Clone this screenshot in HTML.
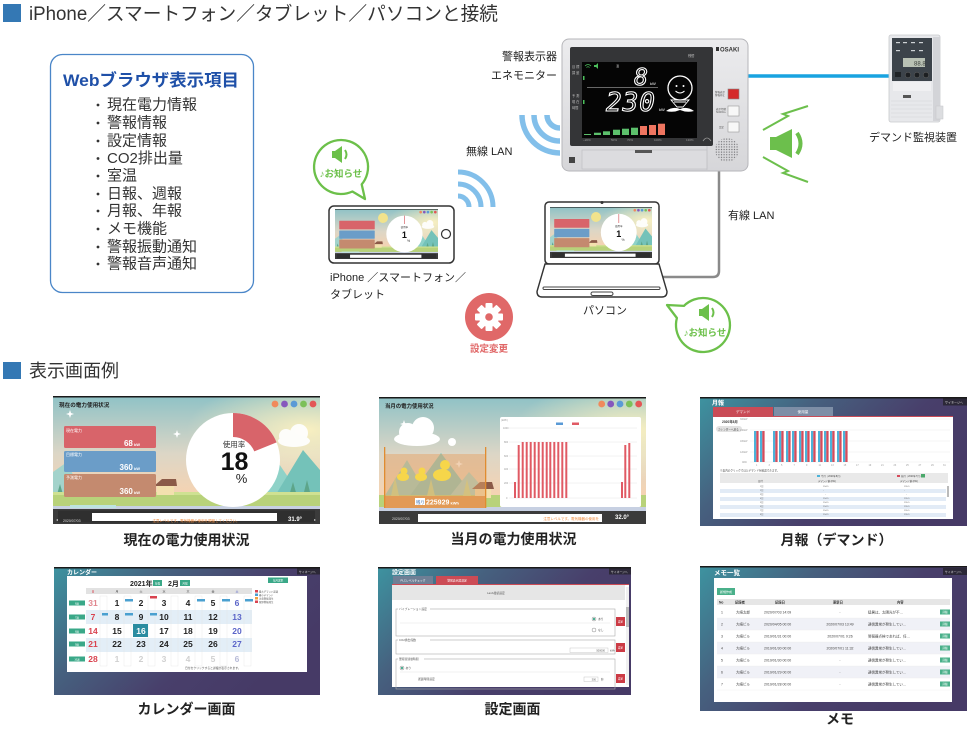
<!DOCTYPE html>
<html><head><meta charset="utf-8"><title>diagram</title>
<style>
html,body{margin:0;padding:0;background:#fff;width:973px;height:729px;overflow:hidden;}
svg{display:block;}
text{font-family:"Liberation Sans","Noto Sans CJK JP",sans-serif;}
.mono{font-family:"DejaVu Sans Mono","Liberation Mono",monospace;}
</style></head><body>
<svg width="973" height="729" viewBox="0 0 973 729" xmlns="http://www.w3.org/2000/svg">
<defs>
 <linearGradient id="sky" x1="0" y1="0" x2="0" y2="1">
  <stop offset="0" stop-color="#8fc2c6"/>
  <stop offset="0.45" stop-color="#dcd6c6"/>
  <stop offset="0.75" stop-color="#f4d3b3"/>
  <stop offset="1" stop-color="#f4d3b3"/>
 </linearGradient>
 <radialGradient id="glow" cx="0.95" cy="0.3" r="0.45">
  <stop offset="0" stop-color="#fff3c0" stop-opacity="0.9"/>
  <stop offset="1" stop-color="#fff3c0" stop-opacity="0"/>
 </radialGradient>
 <linearGradient id="ui" x1="0" y1="0" x2="1" y2="0.5">
  <stop offset="0" stop-color="#3d93a0"/>
  <stop offset="0.35" stop-color="#46617f"/>
  <stop offset="0.7" stop-color="#483f6b"/>
  <stop offset="1" stop-color="#463a66"/>
 </linearGradient>
 <linearGradient id="body" x1="0" y1="0" x2="0" y2="1">
  <stop offset="0" stop-color="#ececee"/>
  <stop offset="1" stop-color="#d6d6d9"/>
 </linearGradient>
 <pattern id="dots" width="2.6" height="2.6" patternUnits="userSpaceOnUse">
  <circle cx="1.3" cy="1.3" r="0.65" fill="#6c6c70"/>
 </pattern>
 <symbol id="scene1" viewBox="0 0 267 128" preserveAspectRatio="none">
  <rect width="267" height="128" fill="url(#sky)"/>
  <rect width="267" height="113" fill="url(#glow)"/>
  <g fill="#fff" opacity="0.92">
   <ellipse cx="241" cy="45" rx="16" ry="6"/>
   <circle cx="233" cy="40" r="7"/>
   <circle cx="246" cy="37" r="9"/>
  </g>
  <polygon points="196,100 222,62 248,100" fill="#8fd2c8"/>
  <polygon points="222,100 250,54 267,74 267,100" fill="#74c2b9"/>
  <polygon points="0,100 0,76 14,66 30,100" fill="#a3d3cb"/>
  <g fill="#5da58a">
   <polygon points="236,100 240,86 244,100"/>
   <polygon points="250,100 254,84 258,100"/>
   <polygon points="3,102 7,88 11,102"/>
  </g>
  <rect x="0" y="96" width="267" height="15" fill="#b8d27a"/>
  <rect x="0" y="96" width="267" height="3" fill="#cfe192"/>
  <rect x="0" y="110" width="267" height="3.5" fill="#c7d0e2"/>
  <rect x="17" y="109" width="46" height="3" fill="#bde3e0"/>
  <g transform="translate(104,84)">
   <rect x="0" y="5" width="17" height="10" fill="#f3e0ae"/>
   <polygon points="-3,6 5,-1 19,-1 20,6" fill="#8b5a48"/>
  </g>
  <rect x="0" y="113" width="267" height="15" fill="#3b3b3b"/>
  <rect x="5" y="114.5" width="257" height="12" fill="#2f2f2f"/>
  <rect x="39" y="117" width="185" height="8" fill="#fff"/>
  <rect width="267" height="1.5" fill="#1a1a1a"/>
  <rect x="11" y="30" width="92" height="22" rx="1.5" fill="#d8646a"/>
  <rect x="11" y="55" width="92" height="21" rx="1.5" fill="#6b9dc8"/>
  <rect x="11" y="78" width="92" height="23" rx="1.5" fill="#c48a6f"/>
  <circle cx="180" cy="64" r="47" fill="#fff"/>
  <circle cx="222" cy="8" r="3.4" fill="#f0895c"/>
  <circle cx="231.5" cy="8" r="3.4" fill="#8658bd"/>
  <circle cx="241" cy="8" r="3.4" fill="#5b9ad6"/>
  <circle cx="250.5" cy="8" r="3.4" fill="#7cc05a"/>
  <circle cx="260" cy="8" r="3.4" fill="#e35656"/>
 </symbol>
</defs>

<!-- ===== Header 1 ===== -->
<rect x="3" y="4" width="18" height="18" fill="#3478b4"/>
<text x="29" y="20" font-size="19" fill="#333" textLength="469" lengthAdjust="spacingAndGlyphs">iPhone／スマートフォン／タブレット／パソコンと接続</text>

<!-- ===== Web browser box ===== -->
<rect x="50.5" y="54.5" width="203" height="238" rx="12" fill="#fff" stroke="#4a86c8" stroke-width="1.3"/>
<text x="63" y="86" font-size="17" font-weight="bold" fill="#1f50a8" textLength="176" lengthAdjust="spacingAndGlyphs">Webブラウザ表示項目</text>
<g fill="#333">
 <circle cx="98" cy="105" r="1.4"/><circle cx="98" cy="123" r="1.4"/><circle cx="98" cy="141" r="1.4"/>
 <circle cx="98" cy="158.5" r="1.4"/><circle cx="98" cy="176" r="1.4"/><circle cx="98" cy="194" r="1.4"/>
 <circle cx="98" cy="211" r="1.4"/><circle cx="98" cy="229" r="1.4"/><circle cx="98" cy="247" r="1.4"/>
 <circle cx="98" cy="264" r="1.4"/>
</g>
<g font-size="15" fill="#333">
 <text x="107" y="109.5">現在電力情報</text>
 <text x="107" y="127.5">警報情報</text>
 <text x="107" y="145.5">設定情報</text>
 <text x="107" y="163">CO2排出量</text>
 <text x="107" y="180.5">室温</text>
 <text x="107" y="198.5">日報、週報</text>
 <text x="107" y="215.5">月報、年報</text>
 <text x="107" y="233.5">メモ機能</text>
 <text x="107" y="251.5">警報振動通知</text>
 <text x="107" y="268.5">警報音声通知</text>
</g>

<!-- ===== connectors ===== -->
<line x1="746" y1="76" x2="890" y2="76" stroke="#19a3e0" stroke-width="3.5"/>
<path d="M719 168 L719 271 Q719 277 713 277 L662 277" fill="none" stroke="#8a8a8a" stroke-width="2.5"/>

<!-- ===== Device (エネモニター) ===== -->
<rect x="562" y="39" width="186" height="132" rx="7" fill="url(#body)" stroke="#b6b6ba" stroke-width="1"/>
<rect x="570" y="47" width="143" height="99" rx="2" fill="#343537"/>
<rect x="582" y="62" width="115" height="76" fill="#050505"/>
<rect x="582" y="150" width="125" height="19" fill="#dcdcdf" stroke="#c2c2c6" stroke-width="0.8"/>
<line x1="707" y1="146" x2="707" y2="170" stroke="#c2c2c6" stroke-width="0.8"/>
<rect x="635" y="150" width="17" height="3" fill="#555"/>
<rect x="569" y="157" width="6" height="6" fill="#444"/>
<circle cx="727" cy="150" r="12" fill="url(#dots)"/>
<rect x="716" y="47" width="3" height="4" fill="#333"/>
<text x="720" y="51.5" font-size="6" font-weight="bold" fill="#333">OSAKI</text>
<rect x="728" y="89" width="11" height="10" fill="#d42a2a" stroke="#888" stroke-width="0.6"/>
<rect x="728" y="106" width="11" height="10" fill="#f7f7f7" stroke="#999" stroke-width="0.6"/>
<rect x="728" y="122" width="11" height="10" fill="#f7f7f7" stroke="#999" stroke-width="0.6"/>
<g font-size="2.5" fill="#555">
 <text x="715" y="93">警報表示</text><text x="715" y="96">警報停止</text>
 <text x="716" y="110">表示切替</text><text x="716" y="113">SCROLL</text>
 <text x="719" y="128">設定</text>
</g>
<!-- display content -->
<g font-size="3.2" fill="#bbb">
 <text x="572" y="68">目 標</text><text x="572" y="74">調 整</text>
 <text x="572" y="97">予 測</text><text x="572" y="103">現 在</text><text x="572" y="109">時間</text>
 <text x="688" y="57">残響</text>
</g>
<rect x="583" y="76" width="1.5" height="4" fill="#4cbf5c"/>
<rect x="583" y="100" width="1.5" height="4" fill="#4cbf5c"/>
<path d="M585 66 Q588 63 591 66 M586.5 67.5 Q588 66 589.5 67.5" stroke="#4cbf5c" stroke-width="0.8" fill="none"/>
<polygon points="594,65 596,65 598,63 598,69 596,67 594,67" fill="#4cbf5c"/>
<text x="616" y="67" font-size="3" fill="#ccc">温</text>
<text x="648" y="85" font-size="23" class="mono" font-style="italic" fill="#000" stroke="#fff" stroke-width="1.1" text-anchor="end">8</text>
<text x="650" y="85" font-size="4" fill="#fff">kW</text>
<line x1="587" y1="87.5" x2="658" y2="87.5" stroke="#888" stroke-width="0.8"/>
<text x="606" y="111" font-size="26" class="mono" font-style="italic" fill="#000" stroke="#fff" stroke-width="1.1" letter-spacing="1">230</text>
<text x="659" y="111" font-size="4" fill="#fff">kW</text>
<circle cx="680" cy="88" r="12" fill="none" stroke="#fff" stroke-width="1.3"/>
<circle cx="676.5" cy="86" r="1" fill="#fff"/><circle cx="683.5" cy="86" r="1" fill="#fff"/>
<path d="M675.5 91 Q680 95 684.5 91" stroke="#fff" stroke-width="1" fill="none"/>
<path d="M671 100 L689 100 L683 107 L677 107 Z M674 102 L686 102" stroke="#fff" stroke-width="0.9" fill="none"/>
<path d="M666 111 Q673 106 680 109 Q687 106 694 111 Q687 113 680 110 Q673 113 666 111 Z" fill="#fff"/>
<g>
 <rect x="584" y="134" width="7" height="1" fill="#5cc06c"/>
 <rect x="594" y="132.7" width="7" height="2.3" fill="#5cc06c"/>
 <rect x="603" y="131.3" width="7" height="3.7" fill="#5cc06c"/>
 <rect x="613" y="129.7" width="7" height="5.3" fill="#5cc06c"/>
 <rect x="622" y="128.7" width="7" height="6.3" fill="#5cc06c"/>
 <rect x="631" y="127.7" width="7" height="7.3" fill="#5cc06c"/>
 <rect x="640" y="126" width="7" height="9" fill="#ef7560"/>
 <rect x="649" y="125" width="7" height="10" fill="#ef7560"/>
 <rect x="658" y="123.7" width="7" height="11.3" fill="#ef7560"/>
</g>
<g font-size="3" fill="#999">
 <text x="583" y="141">~20%</text><text x="611" y="141">50%</text><text x="627" y="141">70%</text>
 <text x="654" y="141">100%</text><text x="686" y="141">130%</text>
</g>
<path d="M703 141 Q707 135 711 141" stroke="#999" stroke-width="0.8" fill="none"/>

<text x="557" y="60" font-size="11" fill="#222" text-anchor="end">警報表示器</text>
<text x="557" y="79" font-size="11" fill="#222" text-anchor="end">エネモニター</text>

<!-- ===== Demand monitor ===== -->
<rect x="889" y="35" width="51" height="87" rx="2" fill="#e7e8eb" stroke="#c9cacd" stroke-width="0.8"/>
<rect x="933" y="37" width="7" height="84" fill="#d3d4d8"/>
<rect x="936" y="106" width="7" height="13" fill="#dcdde0" stroke="#c5c6c9" stroke-width="0.5"/>
<rect x="892" y="38" width="40" height="43" fill="#3c434a"/>
<g fill="#cfd3d6">
 <rect x="896" y="42" width="4" height="1.2"/><rect x="903" y="42" width="4" height="1.2"/>
 <rect x="911" y="42" width="4" height="1.2"/><rect x="919" y="42" width="4" height="1.2"/>
 <rect x="896" y="50" width="4" height="1.2"/><rect x="911" y="50" width="4" height="1.2"/><rect x="919" y="50" width="4" height="1.2"/>
</g>
<rect x="903" y="58" width="22" height="9" fill="#b9c1b4"/>
<text x="914" y="65.5" font-size="6" fill="#3a3f3a">88.8</text>
<rect x="895" y="72" width="6" height="5" fill="#1f2326"/>
<circle cx="908" cy="75" r="2.8" fill="#1c1f22" stroke="#666" stroke-width="0.5"/>
<circle cx="917" cy="75" r="2.8" fill="#1c1f22" stroke="#666" stroke-width="0.5"/>
<circle cx="926" cy="75" r="2.8" fill="#1c1f22" stroke="#666" stroke-width="0.5"/>
<rect x="893" y="82" width="38" height="9" fill="#f0f0f2"/>
<rect x="903" y="95" width="8" height="3" fill="#555"/>
<g stroke="#d2d3d7" stroke-width="0.6">
 <line x1="891" y1="101" x2="932" y2="101"/><line x1="891" y1="105" x2="932" y2="105"/>
 <line x1="891" y1="109" x2="932" y2="109"/><line x1="891" y1="113" x2="932" y2="113"/>
 <line x1="891" y1="117" x2="932" y2="117"/>
</g>
<text x="869" y="141" font-size="11" fill="#222">デマンド監視装置</text>

<!-- ===== Green speaker with lightning ===== -->
<g fill="#6cbf4c">
 <rect x="770" y="137" width="8" height="13"/>
 <polygon points="776,137 792,129 792,158 776,150"/>
</g>
<path d="M797 133 Q804 143.5 797 154" stroke="#6cbf4c" stroke-width="4" fill="none"/>
<polyline points="763,130 788,116 783,114 808,106" fill="none" stroke="#6cbf4c" stroke-width="2"/>
<polyline points="763,157 788,171 783,173 808,182" fill="none" stroke="#6cbf4c" stroke-width="2"/>

<!-- ===== WiFi ===== -->
<g fill="none" stroke="#82bfea" stroke-width="5.5">
 <path d="M547 115 A13 13 0 0 0 560 128"/>
 <path d="M534 115 A26 26 0 0 0 560 141"/>
 <path d="M522 115 A38 38 0 0 0 560 153"/>
</g>
<g fill="none" stroke="#82bfea" stroke-width="5">
 <path d="M458 196 A11 11 0 0 1 469 207"/>
 <path d="M458 184 A23 23 0 0 1 481 207"/>
 <path d="M458 172 A35 35 0 0 1 493 207"/>
</g>
<text x="466" y="155" font-size="11" fill="#222">無線 LAN</text>
<text x="728" y="219" font-size="11" fill="#222">有線 LAN</text>

<!-- ===== Bubble 1 ===== -->
<path d="M352.4 191.5 L365 199 L361.7 184.4 A27 27 0 1 0 352.4 191.5 Z" fill="#fff" stroke="#6cc04a" stroke-width="2.3" stroke-linejoin="round"/>
<g fill="#6cc04a">
 <rect x="332" y="151" width="4" height="7"/>
 <polygon points="335,151 342,146 342,163 335,158"/>
</g>
<path d="M345 150 Q348 154.5 345 159" stroke="#6cc04a" stroke-width="2" fill="none"/>
<text x="341" y="177" font-size="9.5" font-weight="bold" fill="#6cc04a" text-anchor="middle">♪お知らせ</text>

<!-- ===== Bubble 2 ===== -->
<path d="M683.9 305.9 L667 305 L676.9 318 A27 27 0 1 0 683.9 305.9 Z" fill="#fff" stroke="#6cc04a" stroke-width="2.3" stroke-linejoin="round"/>
<g fill="#6cc04a">
 <rect x="699" y="309" width="4" height="7"/>
 <polygon points="702,309 709,304 709,321 702,316"/>
</g>
<path d="M712 308 Q715 312.5 712 317" stroke="#6cc04a" stroke-width="2" fill="none"/>
<text x="705" y="336" font-size="9.5" font-weight="bold" fill="#6cc04a" text-anchor="middle">♪お知らせ</text>

<!-- ===== Phone ===== -->
<rect x="329" y="206" width="125" height="57" rx="5" fill="#fff" stroke="#333" stroke-width="1.5"/>
<use href="#scene1" x="335" y="209" width="103" height="50"/>
<circle cx="383" cy="218" r="5" fill="#f1e38c"/>
<line x1="404.4" y1="215.6" x2="404.4" y2="224" stroke="#d8646a" stroke-width="0.7"/>
<text x="404.4" y="228" font-size="2.5" fill="#333" text-anchor="middle">使用率</text>
<text x="404.4" y="238" font-size="9" font-weight="bold" fill="#111" text-anchor="middle">1</text>
<text x="407" y="242" font-size="3.5" fill="#333">%</text>
<circle cx="446" cy="234" r="4.5" fill="#fff" stroke="#333" stroke-width="1.2"/>
<text x="330" y="281" font-size="11" fill="#222">iPhone ／スマートフォン／</text>
<text x="330" y="298" font-size="11" fill="#222">タブレット</text>

<!-- ===== Laptop ===== -->
<rect x="545" y="202" width="114" height="62" rx="4" fill="#fff" stroke="#333" stroke-width="1.5"/>
<use href="#scene1" x="550" y="207" width="102" height="51"/>
<circle cx="596" cy="217" r="5" fill="#f1e38c"/>
<line x1="618.8" y1="214" x2="618.8" y2="223" stroke="#d8646a" stroke-width="0.7"/>
<text x="618.8" y="227" font-size="2.5" fill="#333" text-anchor="middle">使用率</text>
<text x="618.8" y="237" font-size="9" font-weight="bold" fill="#111" text-anchor="middle">1</text>
<text x="621.5" y="241" font-size="3.5" fill="#333">%</text>
<circle cx="602" cy="202.5" r="1.5" fill="#333"/>
<path d="M545 264 L537 291.5 Q537 297 542 297 L662 297 Q667 297 667 291.5 L659 264 Z" fill="#fff" stroke="#333" stroke-width="1.4"/>
<rect x="543" y="287" width="117" height="2.5" rx="1.2" fill="#fff" stroke="#444" stroke-width="1"/>
<rect x="591" y="292" width="22" height="3.5" rx="1.7" fill="#fff" stroke="#444" stroke-width="1"/>
<text x="583" y="314" font-size="11" fill="#222">パソコン</text>

<!-- ===== Gear ===== -->
<circle cx="489" cy="317" r="24" fill="#e06868"/>
<g fill="#fff">
 <circle cx="489" cy="317" r="10"/>
 <rect x="485.5" y="303" width="7" height="28" rx="1"/>
 <rect x="485.5" y="303" width="7" height="28" rx="1" transform="rotate(45 489 317)"/>
 <rect x="485.5" y="303" width="7" height="28" rx="1" transform="rotate(90 489 317)"/>
 <rect x="485.5" y="303" width="7" height="28" rx="1" transform="rotate(135 489 317)"/>
</g>
<circle cx="489" cy="317" r="3.8" fill="#e06868"/>
<text x="489" y="352" font-size="9.5" font-weight="bold" fill="#e06666" text-anchor="middle">設定変更</text>

<!-- ===== Header 2 ===== -->
<rect x="3" y="362" width="18" height="17" fill="#3478b4"/>
<text x="29" y="377" font-size="18" fill="#333" textLength="90" lengthAdjust="spacingAndGlyphs">表示画面例</text>

<!-- ===== Screenshot 1: 現在の電力使用状況 ===== -->
<use href="#scene1" x="53" y="396" width="267" height="128"/>
<path d="M233 413 A47 47 0 0 1 276.6 442.4 L254.3 451.4 A23 23 0 0 0 233 437 Z" fill="#d8646a"/>
<g fill="#fff">
 <path d="M70 410 l1 3 3 1 -3 1 -1 3 -1 -3 -3 -1 3 -1z"/>
 <path d="M177 430 l1 3 3 1 -3 1 -1 3 -1 -3 -3 -1 3 -1z"/>
</g>
<text x="59" y="407" font-size="5.6" font-weight="bold" fill="#222">現在の電力使用状況</text>
<g font-size="4" fill="#fff">
 <text x="66" y="432">現在電力</text>
 <text x="66" y="456">目標電力</text>
 <text x="66" y="479">予測電力</text>
</g>
<g fill="#fff" font-weight="bold" text-anchor="end">
 <text x="140" y="446"><tspan font-size="8">68</tspan><tspan font-size="4"> kW</tspan></text>
 <text x="140" y="470"><tspan font-size="8">360</tspan><tspan font-size="4"> kW</tspan></text>
 <text x="140" y="494"><tspan font-size="8">360</tspan><tspan font-size="4"> kW</tspan></text>
</g>
<text x="234" y="447" font-size="7.5" fill="#333" text-anchor="middle">使用率</text>
<text x="234.5" y="470" font-size="25" font-weight="bold" fill="#111" text-anchor="middle">18</text>
<text x="241.5" y="483" font-size="13" fill="#222" text-anchor="middle">%</text>
<text x="63" y="522" font-size="3.5" fill="#ddd">2020/07/03</text>
<text x="196" y="522" font-size="3.5" fill="#f08a3c" text-anchor="middle">注意レベルです。電気機器の使用を調整してください。</text>
<text x="288" y="521" font-size="6" font-weight="bold" fill="#fff">31.9°</text>
<text x="56" y="521" font-size="4" fill="#ccc">◂</text>
<text x="314" y="521" font-size="4" fill="#ccc">▸</text>
<text x="186.5" y="545" font-size="14" font-weight="bold" fill="#222" text-anchor="middle">現在の電力使用状況</text>

<!-- ===== Screenshot 2: 当月の電力使用状況 ===== -->
<g transform="translate(379,397)">
 <rect width="267" height="127" fill="url(#sky)"/>
 <rect width="267" height="112" fill="url(#glow)"/>
 <g fill="#fff">
  <ellipse cx="38" cy="42" rx="23" ry="7"/>
  <circle cx="29" cy="35" r="9"/>
  <circle cx="44" cy="31" r="11"/>
  <circle cx="73" cy="45" r="4"/>
  <path d="M80 63 l1 3 3 1 -3 1 -1 3 -1 -3 -3 -1 3 -1z"/>
  <path d="M25 23 l1 3 3 1 -3 1 -1 3 -1 -3 -3 -1 3 -1z"/>
 </g>
 <polygon points="5,100 28,63 50,100" fill="#8dd0c6"/>
 <polygon points="30,100 62,56 95,100" fill="#7cc6bd"/>
 <polygon points="70,100 90,75 112,100" fill="#a0d6cc"/>
 <rect y="98" width="267" height="13" fill="#b8d27a"/>
 <rect y="110" width="267" height="4" fill="#c7d0e2"/>
 <g transform="translate(96,86)">
  <rect x="0" y="5" width="16" height="10" fill="#f3e0ae"/>
  <polygon points="-3,6 5,-1 17,-1 19,6" fill="#8b5a48"/>
 </g>
 <rect x="5" y="57" width="102" height="54" fill="#e3a36a" fill-opacity="0.5"/>
 <rect x="5" y="99" width="102" height="12" fill="#e29a56"/>
 <rect x="5" y="50" width="1.3" height="61" fill="#e08c30"/>
 <rect x="106" y="50" width="1.3" height="61" fill="#e08c30"/>
 <g fill="#d8c27a" opacity="0.8">
  <polygon points="12,99 16,80 20,99"/><polygon points="48,99 52,82 56,99"/><polygon points="84,99 88,82 92,99"/>
 </g>
 <g fill="#f6d64a">
  <ellipse cx="24" cy="80" rx="6" ry="4"/><circle cx="25" cy="74" r="3.5"/>
  <ellipse cx="42" cy="80" rx="6" ry="4"/><circle cx="43" cy="74" r="3.5"/>
  <ellipse cx="63" cy="78" rx="9" ry="6"/><circle cx="66" cy="68" r="5"/>
 </g>
 <rect x="36" y="101" width="10" height="7" fill="#fff"/>
 <text x="37" y="107" font-size="4.5" fill="#3a6fb0">残り</text>
 <text x="47" y="107.5" font-size="7" font-weight="bold" fill="#fff">225929<tspan font-size="4"> kWh</tspan></text>
 <rect x="121" y="20" width="141" height="90" rx="2" fill="#fff"/>
 <g stroke="#e6e6e6" stroke-width="0.5">
  <line x1="130" y1="31" x2="258" y2="31"/><line x1="130" y1="45" x2="258" y2="45"/>
  <line x1="130" y1="59" x2="258" y2="59"/><line x1="130" y1="72" x2="258" y2="72"/>
  <line x1="130" y1="86" x2="258" y2="86"/><line x1="130" y1="101" x2="258" y2="101"/>
 </g>
 <rect x="177" y="25.5" width="7" height="2.5" fill="#5a9ad6"/>
 <rect x="193" y="25.5" width="7" height="2.5" fill="#e05a64"/>
 <g fill="#e05a64">
  <rect x="135" y="85" width="2" height="16"/>
  <rect x="138.7" y="48" width="2" height="53"/>
  <rect x="142.7" y="45" width="2" height="56"/><rect x="146.7" y="45" width="2" height="56"/>
  <rect x="150.7" y="45" width="2" height="56"/><rect x="154.7" y="45" width="2" height="56"/>
  <rect x="158.7" y="45" width="2" height="56"/><rect x="162.7" y="45" width="2" height="56"/>
  <rect x="166.7" y="45" width="2" height="56"/><rect x="170.3" y="45" width="2" height="56"/>
  <rect x="174.3" y="45" width="2" height="56"/><rect x="178.3" y="45" width="2" height="56"/>
  <rect x="182.3" y="45" width="2" height="56"/><rect x="186.3" y="45" width="2" height="56"/>
  <rect x="242" y="85" width="2" height="16"/>
  <rect x="245.3" y="48" width="2" height="53"/>
  <rect x="249.3" y="46" width="2" height="55"/>
 </g>
 <g font-size="2.5" fill="#999">
  <text x="122" y="24">(kWh)</text>
  <text x="124" y="32">1000</text><text x="125" y="46">800</text><text x="125" y="60">600</text>
  <text x="125" y="73">400</text><text x="125" y="87">200</text><text x="127" y="102">0</text>
 </g>
 <rect y="114" width="267" height="13" fill="#3b3b3b"/>
 <rect x="39" y="117" width="184" height="8" fill="#fff"/>
 <rect width="267" height="1.5" fill="#1a1a1a"/>
 <text x="6" y="11" font-size="5.4" font-weight="bold" fill="#222">当月の電力使用状況</text>
 <circle cx="222.7" cy="7" r="3.4" fill="#f0895c"/>
 <circle cx="231.7" cy="7" r="3.4" fill="#8658bd"/>
 <circle cx="241" cy="7" r="3.4" fill="#5b9ad6"/>
 <circle cx="250.3" cy="7" r="3.4" fill="#7cc05a"/>
 <circle cx="259.7" cy="7" r="3.4" fill="#e35656"/>
 <text x="13" y="123" font-size="3.5" fill="#ddd">2020/07/03</text>
 <text x="220" y="123" font-size="3.5" fill="#f08a3c" text-anchor="end">注意レベルです。電気機器の使用を</text>
 <text x="236" y="122" font-size="6" font-weight="bold" fill="#fff">32.0°</text>
</g>
<text x="513.5" y="544" font-size="14" font-weight="bold" fill="#222" text-anchor="middle">当月の電力使用状況</text>

<!-- ===== Screenshot 3: 月報 ===== -->
<g transform="translate(700,397)">
 <rect width="267" height="129" fill="url(#ui)"/>
 <rect width="267" height="1.5" fill="#1a1a1a"/>
 <text x="12" y="8" font-size="6" font-weight="bold" fill="#fff">月報</text>
 <rect x="243" y="1.5" width="24" height="7" fill="#2c2838"/>
 <text x="245" y="6.3" font-size="3" fill="#ddd">サイネージへ</text>
 <rect x="13" y="10" width="60" height="9" fill="#c94b56"/>
 <text x="43" y="16" font-size="3.6" fill="#fff" text-anchor="middle">デマンド</text>
 <rect x="74" y="10" width="59" height="9" fill="#7d8ea6"/>
 <text x="103" y="16" font-size="3.6" fill="#fff" text-anchor="middle">使用量</text>
 <rect x="13" y="19" width="240" height="103" fill="#fff"/>
 <rect x="13" y="19" width="240" height="1" fill="#c94b56"/>
 <text x="22" y="26" font-size="3.3" font-weight="bold" fill="#333">2020年8月</text>
 <rect x="16" y="29" width="26" height="6" rx="3" fill="#e2e2e2"/>
 <text x="18" y="33.3" font-size="2.6" fill="#444">カレンダーへ戻る</text>
 <g stroke="#ebebeb" stroke-width="0.5">
  <line x1="50" y1="22" x2="250" y2="22"/><line x1="50" y1="33" x2="250" y2="33"/>
  <line x1="50" y1="44" x2="250" y2="44"/><line x1="50" y1="55" x2="250" y2="55"/>
  <line x1="50" y1="65" x2="250" y2="65"/>
 </g>
 <g font-size="2.4" fill="#999">
  <text x="40" y="23">300kW</text><text x="40" y="34">240kW</text><text x="40" y="45">180kW</text>
  <text x="40" y="56">120kW</text><text x="42" y="66">0kW</text>
 </g>
 <g>
  <rect x="54" y="34" width="2.3" height="31" fill="#4cb3d9"/><rect x="56.3" y="34" width="2.3" height="31" fill="#d64b5b"/>
  <rect x="60" y="34" width="2.3" height="31" fill="#4cb3d9"/><rect x="62.3" y="34" width="2.3" height="31" fill="#d64b5b"/>
  <rect x="73" y="34" width="2.3" height="31" fill="#4cb3d9"/><rect x="75.3" y="34" width="2.3" height="31" fill="#d64b5b"/>
  <rect x="79" y="34" width="2.3" height="31" fill="#4cb3d9"/><rect x="81.3" y="34" width="2.3" height="31" fill="#d64b5b"/>
  <rect x="86" y="34" width="2.3" height="31" fill="#4cb3d9"/><rect x="88.3" y="34" width="2.3" height="31" fill="#d64b5b"/>
  <rect x="92" y="34" width="2.3" height="31" fill="#4cb3d9"/><rect x="94.3" y="34" width="2.3" height="31" fill="#d64b5b"/>
  <rect x="99" y="34" width="2.3" height="31" fill="#4cb3d9"/><rect x="101.3" y="34" width="2.3" height="31" fill="#d64b5b"/>
  <rect x="105" y="34" width="2.3" height="31" fill="#4cb3d9"/><rect x="107.3" y="34" width="2.3" height="31" fill="#d64b5b"/>
  <rect x="111" y="34" width="2.3" height="31" fill="#4cb3d9"/><rect x="113.3" y="34" width="2.3" height="31" fill="#d64b5b"/>
  <rect x="118" y="34" width="2.3" height="31" fill="#4cb3d9"/><rect x="120.3" y="34" width="2.3" height="31" fill="#d64b5b"/>
  <rect x="124" y="34" width="2.3" height="31" fill="#4cb3d9"/><rect x="126.3" y="34" width="2.3" height="31" fill="#d64b5b"/>
  <rect x="130" y="34" width="2.3" height="31" fill="#4cb3d9"/><rect x="132.3" y="34" width="2.3" height="31" fill="#d64b5b"/>
  <rect x="137" y="34" width="2.3" height="31" fill="#4cb3d9"/><rect x="139.3" y="34" width="2.3" height="31" fill="#d64b5b"/>
  <rect x="143" y="34" width="2.3" height="31" fill="#4cb3d9"/><rect x="145.3" y="34" width="2.3" height="31" fill="#d64b5b"/>
 </g>
 <g font-size="2.4" fill="#999">
  <text x="56" y="69">1</text><text x="68.5" y="69">3</text><text x="81" y="69">5</text><text x="93.5" y="69">7</text>
  <text x="106" y="69">9</text><text x="118.5" y="69">11</text><text x="131" y="69">13</text><text x="143.5" y="69">15</text>
  <text x="156" y="69">17</text><text x="168.5" y="69">19</text><text x="181" y="69">21</text><text x="193.5" y="69">23</text>
  <text x="206" y="69">25</text><text x="218.5" y="69">27</text><text x="231" y="69">29</text><text x="243" y="69">31</text>
 </g>
 <text x="20" y="74.5" font-size="2.6" fill="#444">※表内のクリックで日とデマンドを確認できます。</text>
 <rect x="20" y="76" width="228" height="10" fill="#e9e9e9"/>
 <rect x="117" y="78" width="3" height="2" fill="#4cb3d9"/>
 <text x="121" y="80" font-size="2.4" fill="#444">今月（2020年8月）</text>
 <rect x="197" y="78" width="3" height="2" fill="#d64b5b"/>
 <text x="201" y="80" font-size="2.4" fill="#444">前月（2020年7月）</text>
 <rect x="221" y="77" width="4" height="3.5" fill="#4aa86a"/>
 <text x="58" y="85" font-size="2.4" fill="#444">日付</text>
 <text x="118" y="85" font-size="2.4" fill="#444">デマンド値 (kW)</text>
 <text x="200" y="85" font-size="2.4" fill="#444">デマンド値 (kW)</text>
 <rect x="20" y="92" width="226" height="4" fill="#e2ebf6"/>
 <rect x="20" y="100" width="226" height="4" fill="#e2ebf6"/>
 <rect x="20" y="108" width="226" height="4" fill="#e2ebf6"/>
 <rect x="20" y="116" width="226" height="4" fill="#e2ebf6"/>
 <g font-size="2.2" fill="#666">
  <text x="60" y="90">1日</text><text x="123" y="90">154.5</text><text x="204" y="90">155.5</text>
  <text x="60" y="94">2日</text><text x="123" y="94">-</text><text x="204" y="94">-</text>
  <text x="60" y="98">3日</text><text x="125" y="98">-</text><text x="206" y="98">-</text>
  <text x="60" y="102">4日</text><text x="123" y="102">154.5</text><text x="204" y="102">155.5</text>
  <text x="60" y="106">5日</text><text x="123" y="106">154.5</text><text x="204" y="106">155.5</text>
  <text x="60" y="110">6日</text><text x="123" y="110">154.5</text><text x="204" y="110">155.5</text>
  <text x="60" y="114">7日</text><text x="123" y="114">154.5</text><text x="204" y="114">155.5</text>
  <text x="60" y="118">8日</text><text x="123" y="118">154.5</text><text x="204" y="118">155.5</text>
 </g>
 <rect x="247" y="89" width="2" height="11" fill="#bbb"/>
</g>
<text x="836.5" y="545" font-size="14" font-weight="bold" fill="#222" text-anchor="middle">月報（デマンド）</text>

<!-- ===== Screenshot 4: カレンダー ===== -->
<g transform="translate(54,567)">
 <rect width="266" height="128" fill="url(#ui)"/>
 <rect width="266" height="1.5" fill="#1a1a1a"/>
 <text x="13" y="7.5" font-size="6" font-weight="bold" fill="#fff">カレンダー</text>
 <rect x="243" y="1.5" width="23" height="6" fill="#2c2838"/>
 <text x="245" y="5.8" font-size="2.8" fill="#ddd">サイネージへ</text>
 <rect x="13" y="9" width="240" height="96" fill="#fff"/>
 <text x="76" y="19" font-size="7" font-weight="bold" fill="#222">2021年</text>
 <rect x="99" y="13" width="9" height="6" fill="#3aa888"/>
 <text x="103.5" y="17.5" font-size="2.6" fill="#fff" text-anchor="middle">年報</text>
 <text x="114" y="19" font-size="7" font-weight="bold" fill="#222">2月</text>
 <rect x="126" y="13" width="10" height="6" fill="#3aa888"/>
 <text x="131" y="17.5" font-size="2.6" fill="#fff" text-anchor="middle">月報</text>
 <rect x="214" y="10.5" width="20" height="5.5" fill="#3aa888"/>
 <text x="224" y="14.6" font-size="2.6" fill="#fff" text-anchor="middle">年月選択</text>
 <rect x="32" y="21" width="166" height="6" fill="#e2e2e2"/>
 <g font-size="3" text-anchor="middle" fill="#555">
  <text x="39" y="25.5" fill="#d9434f">日</text><text x="63" y="25.5">月</text><text x="87" y="25.5">火</text>
  <text x="110" y="25.5">水</text><text x="134" y="25.5">木</text><text x="159" y="25.5">金</text><text x="183" y="25.5" fill="#5a64c8">土</text>
 </g>
 <rect x="32" y="43" width="166" height="14" fill="#e3eef7"/>
 <rect x="32" y="71" width="166" height="14" fill="#e3eef7"/>
 <g stroke="#e4e4e4" stroke-width="0.4" fill="none">
  <rect x="46" y="29" width="7" height="70"/><rect x="70" y="29" width="7" height="70"/>
  <rect x="94" y="29" width="7" height="70"/><rect x="117" y="29" width="7" height="70"/>
  <rect x="141" y="29" width="7" height="70"/><rect x="166" y="29" width="7" height="70"/>
  <rect x="190" y="29" width="7" height="70"/>
 </g>
 <g fill="#3aa888">
  <rect x="15" y="33.5" width="16" height="5"/><rect x="15" y="47.5" width="16" height="5"/>
  <rect x="15" y="61.5" width="16" height="5"/><rect x="15" y="74.5" width="16" height="5"/>
  <rect x="15" y="89.5" width="16" height="5"/>
 </g>
 <g font-size="2.5" fill="#fff" text-anchor="middle">
  <text x="23" y="37.3">6週</text><text x="23" y="51.3">7週</text><text x="23" y="65.3">8週</text>
  <text x="23" y="78.3">9週</text><text x="23" y="93.3">10週</text>
 </g>
 <g fill="#4aa0d0">
  <rect x="71" y="32" width="8" height="2.5"/><rect x="143" y="32" width="8" height="2.5"/>
  <rect x="168" y="32" width="8" height="2.5"/><rect x="191" y="32" width="8" height="2.5"/>
  <rect x="48" y="46" width="6" height="2.5"/><rect x="71" y="46" width="8" height="2.5"/>
  <rect x="96" y="46" width="7" height="2.5"/>
 </g>
 <rect x="96" y="29" width="7" height="2.5" fill="#d9434f"/>
 <g font-size="2.4" fill="#555">
  <rect x="201" y="23" width="3" height="2.5" fill="#d9434f"/><text x="205" y="25.3">最大デマンド超過</text>
  <rect x="201" y="26.5" width="3" height="2.5" fill="#4aa0d0"/><text x="205" y="28.8">最小デマンド</text>
  <rect x="201" y="30" width="3" height="2.5" fill="#f0a040"/><text x="205" y="32.3">注意警報発生</text>
  <rect x="201" y="33.5" width="3" height="2.5" fill="#d9434f"/><text x="205" y="35.8">限界警報発生</text>
 </g>
 <rect x="79" y="57" width="15" height="13" fill="#2a8ca0"/>
 <g font-size="8.5" font-weight="bold" text-anchor="middle" fill="#222">
  <text x="39" y="39" fill="#e0868e">31</text><text x="63" y="39">1</text><text x="87" y="39">2</text><text x="110" y="39">3</text><text x="134" y="39">4</text><text x="159" y="39">5</text><text x="183" y="39" fill="#5a64c8">6</text>
  <text x="39" y="53" fill="#d9434f">7</text><text x="63" y="53">8</text><text x="87" y="53">9</text><text x="110" y="53">10</text><text x="134" y="53">11</text><text x="159" y="53">12</text><text x="183" y="53" fill="#5a64c8">13</text>
  <text x="39" y="67" fill="#d9434f">14</text><text x="63" y="67">15</text><text x="87" y="67" fill="#fff">16</text><text x="110" y="67">17</text><text x="134" y="67">18</text><text x="159" y="67">19</text><text x="183" y="67" fill="#5a64c8">20</text>
  <text x="39" y="80" fill="#d9434f">21</text><text x="63" y="80">22</text><text x="87" y="80">23</text><text x="110" y="80">24</text><text x="134" y="80">25</text><text x="159" y="80">26</text><text x="183" y="80" fill="#5a64c8">27</text>
  <text x="39" y="95" fill="#d9434f">28</text><text x="63" y="95" fill="#d0d0d0">1</text><text x="87" y="95" fill="#d0d0d0">2</text><text x="110" y="95" fill="#d0d0d0">3</text><text x="134" y="95" fill="#d0d0d0">4</text><text x="159" y="95" fill="#d0d0d0">5</text><text x="183" y="95" fill="#b8bcd8">6</text>
 </g>
 <text x="131" y="102" font-size="2.8" fill="#555">日付をクリックすると詳細が表示されます。</text>
</g>
<text x="186.5" y="714" font-size="14" font-weight="bold" fill="#222" text-anchor="middle">カレンダー画面</text>

<!-- ===== Screenshot 5: 設定画面 ===== -->
<g transform="translate(378,567)">
 <rect width="253" height="128" fill="url(#ui)"/>
 <rect width="253" height="1.5" fill="#1a1a1a"/>
 <text x="14" y="7.5" font-size="6" font-weight="bold" fill="#fff">設定画面</text>
 <rect x="231" y="1.5" width="22" height="6" fill="#2c2838"/>
 <text x="233" y="5.8" font-size="2.8" fill="#ddd">サイネージへ</text>
 <rect x="15" y="9" width="40" height="8" fill="#6f7f95"/>
 <text x="35" y="14.3" font-size="2.8" fill="#fff" text-anchor="middle">PLCレベルチェック</text>
 <rect x="58" y="9" width="42" height="8" fill="#cc4b55"/>
 <text x="79" y="14.3" font-size="2.8" fill="#fff" text-anchor="middle">警報表示器設定</text>
 <rect x="14" y="17" width="237" height="103" fill="#fff"/>
 <rect x="14" y="17" width="237" height="1" fill="#cc4b55"/>
 <rect x="14" y="18" width="233" height="15" fill="#e6e6e6"/>
 <text x="118" y="27" font-size="2.8" fill="#555" text-anchor="middle">LanA接続設定</text>
 <rect x="248" y="20" width="3" height="98" fill="#f0f0f0"/>
 <rect x="248" y="40" width="3" height="20" fill="#bbb"/>
 <g fill="none" stroke="#aaa" stroke-width="0.6">
  <rect x="18" y="42" width="219" height="27"/>
  <rect x="18" y="73" width="219" height="14"/>
  <rect x="18" y="92" width="219" height="30"/>
 </g>
 <g fill="#fff">
  <rect x="20" y="40" width="32" height="4"/><rect x="20" y="71" width="32" height="4"/><rect x="20" y="90" width="26" height="4"/>
 </g>
 <g font-size="2.8" fill="#555">
  <text x="21" y="43">バイブレーション設定</text>
  <text x="21" y="74">CO2排出係数</text>
  <text x="21" y="93">警報音連動時間</text>
 </g>
 <line x1="22" y1="56" x2="232" y2="56" stroke="#e4e4e4" stroke-width="0.5"/>
 <line x1="22" y1="105" x2="232" y2="105" stroke="#e4e4e4" stroke-width="0.5"/>
 <circle cx="216" cy="52" r="2" fill="#fff" stroke="#888" stroke-width="0.5"/>
 <circle cx="216" cy="52" r="1.1" fill="#3aa888"/>
 <circle cx="216" cy="63" r="2" fill="#fff" stroke="#888" stroke-width="0.5"/>
 <text x="220" y="53" font-size="2.8" fill="#555">あり</text>
 <text x="220" y="64" font-size="2.8" fill="#555">なし</text>
 <rect x="192" y="81" width="38" height="4.5" fill="#fff" stroke="#bbb" stroke-width="0.4"/>
 <text x="227" y="84.5" font-size="2.6" fill="#555" text-anchor="end">500000</text>
 <text x="232" y="84.5" font-size="2.4" fill="#555">kWh</text>
 <circle cx="24" cy="101" r="2" fill="#fff" stroke="#888" stroke-width="0.5"/>
 <circle cx="24" cy="101" r="1.1" fill="#3aa888"/>
 <text x="27.5" y="102" font-size="2.8" fill="#555">あり</text>
 <text x="40" y="113" font-size="2.8" fill="#555">遅延時間設定</text>
 <rect x="206" y="110" width="14" height="4.5" fill="#fff" stroke="#bbb" stroke-width="0.4"/>
 <text x="218" y="113.5" font-size="2.6" fill="#555" text-anchor="end">300</text>
 <text x="223" y="113.5" font-size="2.6" fill="#555">秒</text>
 <g fill="#cc3b45">
  <rect x="238" y="50" width="9" height="9"/><rect x="238" y="76" width="9" height="9"/><rect x="238" y="107" width="9" height="9"/>
 </g>
 <g font-size="2.6" fill="#fff" text-anchor="middle">
  <text x="242.5" y="55.5">設定</text><text x="242.5" y="81.5">設定</text><text x="242.5" y="112.5">設定</text>
 </g>
</g>
<text x="512.5" y="714" font-size="14" font-weight="bold" fill="#222" text-anchor="middle">設定画面</text>

<!-- ===== Screenshot 6: メモ ===== -->
<g transform="translate(700,566)">
 <rect width="267" height="145" fill="url(#ui)"/>
 <rect width="267" height="1.5" fill="#1a1a1a"/>
 <text x="14" y="9" font-size="6.5" font-weight="bold" fill="#fff">メモ一覧</text>
 <rect x="243" y="2" width="24" height="7" fill="#2c2838"/>
 <text x="245" y="6.8" font-size="2.8" fill="#ddd">サイネージへ</text>
 <rect x="14" y="12" width="238" height="124" fill="#fff"/>
 <rect x="17" y="22" width="18" height="7" fill="#4ab08a"/>
 <text x="26" y="26.8" font-size="3" fill="#fff" text-anchor="middle">新規作成</text>
 <rect x="17" y="33" width="233" height="6" fill="#e6e6e6"/>
 <g font-size="3.3" font-weight="bold" fill="#333">
  <text x="19" y="37.5">No</text><text x="35" y="37.5">記録者</text><text x="75" y="37.5">記録日</text>
  <text x="133" y="37.5">更新日</text><text x="197" y="37.5">内容</text>
 </g>
 <rect x="17" y="52" width="233" height="12" fill="#f0f1f7"/>
 <rect x="17" y="76" width="233" height="12" fill="#f0f1f7"/>
 <rect x="17" y="100" width="233" height="12" fill="#f0f1f7"/>
 <g stroke="#ececec" stroke-width="0.4">
  <line x1="17" y1="52" x2="250" y2="52"/><line x1="17" y1="64" x2="250" y2="64"/><line x1="17" y1="76" x2="250" y2="76"/>
  <line x1="17" y1="88" x2="250" y2="88"/><line x1="17" y1="100" x2="250" y2="100"/><line x1="17" y1="112" x2="250" y2="112"/>
  <line x1="17" y1="124" x2="250" y2="124"/>
 </g>
 <g font-size="3.5" fill="#444">
  <text x="21" y="47.5">1</text><text x="36" y="47.5">大崎太郎</text><text x="64" y="47.5">2020/07/03 14:09</text><text x="140" y="47.5" text-anchor="middle">-</text><text x="168" y="47.5">猛暑は、太陽光が不…</text>
  <text x="21" y="59.5">2</text><text x="36" y="59.5">大崎ビル</text><text x="64" y="59.5">2020/04/05 00:00</text><text x="140" y="59.5" text-anchor="middle">2020/07/03 13:49</text><text x="168" y="59.5">通信異常が発生してい…</text>
  <text x="21" y="71.5">3</text><text x="36" y="71.5">大崎ビル</text><text x="64" y="71.5">2019/01/31 00:00</text><text x="140" y="71.5" text-anchor="middle">2020/07/01 9:26</text><text x="168" y="71.5">警報器点検であれば、任…</text>
  <text x="21" y="83.5">4</text><text x="36" y="83.5">大崎ビル</text><text x="64" y="83.5">2019/01/30 00:00</text><text x="140" y="83.5" text-anchor="middle">2020/07/01 11:32</text><text x="168" y="83.5">通信異常が発生してい…</text>
  <text x="21" y="95.5">5</text><text x="36" y="95.5">大崎ビル</text><text x="64" y="95.5">2019/01/30 00:00</text><text x="140" y="95.5" text-anchor="middle">-</text><text x="168" y="95.5">通信異常が発生してい…</text>
  <text x="21" y="107.5">6</text><text x="36" y="107.5">大崎ビル</text><text x="64" y="107.5">2019/01/29 00:00</text><text x="140" y="107.5" text-anchor="middle">-</text><text x="168" y="107.5">通信異常が発生してい…</text>
  <text x="21" y="119.5">7</text><text x="36" y="119.5">大崎ビル</text><text x="64" y="119.5">2019/01/28 00:00</text><text x="140" y="119.5" text-anchor="middle">-</text><text x="168" y="119.5">通信異常が発生してい…</text>
 </g>
 <g fill="#4ab08a">
  <rect x="240" y="43.5" width="10" height="5"/><rect x="240" y="55.5" width="10" height="5"/>
  <rect x="240" y="67.5" width="10" height="5"/><rect x="240" y="79.5" width="10" height="5"/>
  <rect x="240" y="91.5" width="10" height="5"/><rect x="240" y="103.5" width="10" height="5"/>
  <rect x="240" y="115.5" width="10" height="5"/>
 </g>
 <g font-size="2.6" fill="#fff" text-anchor="middle">
  <text x="245" y="47.2">詳細</text><text x="245" y="59.2">詳細</text><text x="245" y="71.2">詳細</text>
  <text x="245" y="83.2">詳細</text><text x="245" y="95.2">詳細</text><text x="245" y="107.2">詳細</text>
  <text x="245" y="119.2">詳細</text>
 </g>
</g>
<text x="840" y="724" font-size="14" font-weight="bold" fill="#222" text-anchor="middle">メモ</text>
</svg>
</body></html>
